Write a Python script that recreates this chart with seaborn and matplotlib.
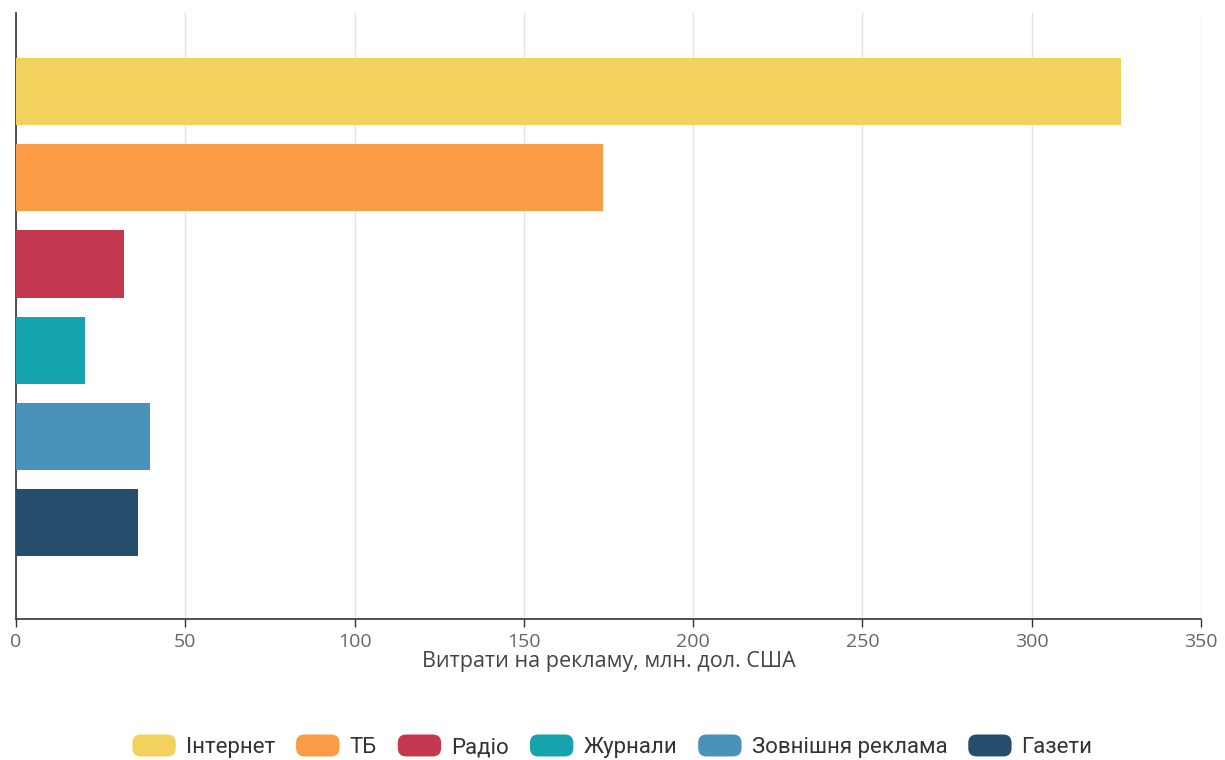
import matplotlib
matplotlib.use("Agg")
import matplotlib.pyplot as plt
import seaborn as sns
import pandas as pd
from matplotlib.patches import FancyBboxPatch, Patch
from matplotlib.legend_handler import HandlerPatch

categories = ["Інтернет", "ТБ", "Радіо", "Журнали", "Зовнішня реклама", "Газети"]
values = [326.4, 173.3, 31.9, 20.5, 39.6, 36.0]
colors = ["#F2D15C", "#FC9B45", "#C4384F", "#15A3AD", "#4992B9", "#274D6E"]
xticks = [0, 50, 100, 150, 200, 250, 300, 350]
xlabel = "Витрати на рекламу, млн. дол. США"

df = pd.DataFrame({"cat": categories, "val": values})

sns.set_theme(style="white")
plt.rcParams["font.family"] = ["Open Sans", "DejaVu Sans"]

fig = plt.figure(figsize=(12.25, 7.6), dpi=100)
ax = fig.add_axes([16/1225, 141/760, 1185/1225, 606/760])

sns.barplot(data=df, y="cat", x="val", hue="cat", palette=colors, orient="h",
            width=0.78, legend=False, ax=ax, saturation=1, linewidth=0, zorder=3)

ax.set_xlim(0, 350)
ax.set_ylim(6.12, -0.913)
ax.set_xticks(xticks)
ax.set_xticklabels([str(t) for t in xticks], color="#666666", fontsize=14)
ax.set_yticks([])
ax.set_ylabel("")
ax.set_xlabel(xlabel, fontsize=15.5, color="#444444", labelpad=0)
ax.grid(axis="x", color="#e3e3e3", linewidth=1, zorder=0)
ax.set_axisbelow(True)
for s in ["top", "right"]:
    ax.spines[s].set_visible(False)
for s in ["left", "bottom"]:
    ax.spines[s].set_color("#333333")
    ax.spines[s].set_linewidth(1.2)
ax.tick_params(axis="x", length=6, width=1, color="#333333", pad=4, bottom=True)


class RoundHandler(HandlerPatch):
    def create_artists(self, legend, orig_handle, xdescent, ydescent, width, height, fontsize, trans):
        p = FancyBboxPatch((-xdescent, -ydescent - 1), width, height + 2,
                           boxstyle="round,pad=0,rounding_size=6",
                           facecolor=orig_handle.get_facecolor(), edgecolor="none",
                           transform=trans)
        return [p]


handles = [Patch(facecolor=c, label=l) for c, l in zip(colors, categories)]
leg = fig.legend(handles=handles, loc="center", bbox_to_anchor=(0.5, 1 - 747/760), ncol=6,
                 frameon=False, handlelength=1.95, handleheight=0.95,
                 handletextpad=0.45, columnspacing=0.95,
                 prop={"family": ["Roboto", "DejaVu Sans"], "size": 16},
                 handler_map={Patch: RoundHandler()})
for t in leg.get_texts():
    t.set_color("#333333")

fig.savefig("out.png", dpi=100, facecolor="white")
